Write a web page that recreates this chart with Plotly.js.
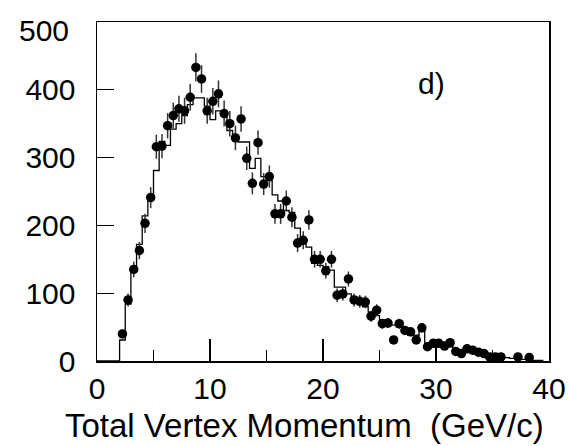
<!DOCTYPE html>
<html>
<head>
<meta charset="utf-8">
<script src="https://cdn.plot.ly/plotly-3.0.1.min.js"></script>
<style>html,body{margin:0;padding:0;background:#fff;}#chart{width:570px;height:446px;}</style>
</head>
<body>
<div id="chart"></div>
<script>
// Data points (bin centres, counts, statistical errors)
var dataX = [2.25,2.75,3.25,3.75,4.25,4.75,5.25,5.75,6.25,6.75,7.25,7.75,8.25,8.75,9.25,9.75,10.25,10.75,11.25,11.75,12.25,12.75,13.25,13.75,14.25,14.75,15.25,15.75,16.25,16.75,17.25,17.75,18.25,18.75,19.25,19.75,20.25,20.75,21.25,21.75,22.25,22.75,23.25,23.75,24.25,24.75,25.25,25.75,26.25,26.75,27.25,27.75,28.25,28.75,29.25,29.75,30.25,30.75,31.25,31.75,32.25,32.75,33.25,33.75,34.25,34.75,35.25,35.75,37.25,38.25];
var dataY = [40,90,135,163,203,241,316,317,347,362,372,369,389,433,416,369,383,394,365,350,329,357,299,262,322,261,272,217,217,236,212,174,178,208,150,150,133,150,97,99,121,90,88,87,66,75,55,56,31,55,45,43,31,49,21,26,26,22,27,14,11,18,16,13,11,6,6,6,6,5];
var dataErr = [6.3,9.5,11.6,12.8,14.2,15.5,17.8,17.8,18.6,19,19.3,19.2,19.7,20.8,20.4,19.2,19.6,19.8,19.1,18.7,18.1,18.9,17.3,16.2,17.9,16.2,16.5,14.7,14.7,15.4,14.6,13.2,13.3,14.4,12.2,12.2,11.5,12.2,9.8,9.9,11,9.5,9.4,9.3,8.1,8.7,7.4,7.5,5.6,7.4,6.7,6.6,5.6,7,4.6,5.1,5.1,4.7,5.2,3.7,3.3,4.2,4,3.6,3.3,2.4,2.4,2.4,2.4,2.2];

// Simulation histogram (bin lower edges and contents)
var histEdges = [2.0,2.5,3.0,3.5,4.0,4.5,5.0,5.5,6.0,6.5,7.0,7.5,8.0,8.5,9.0,9.5,10.0,10.5,11.0,11.5,12.0,12.5,13.0,13.5,14.0,14.5,15.0,15.5,16.0,16.5,17.0,17.5,18.0,18.5,19.0,19.5,20.0,20.5,21.0,21.5,22.0,22.5,23.0,23.5,24.0,24.5,25.0,25.5,26.0,26.5,27.0,27.5,28.0,28.5,29.0,29.5,30.0,30.5,31.0,31.5,32.0,32.5,33.0,33.5,34.0,34.5,35.0,35.5,36.0,36.5,37.0,37.5,38.0,38.5,39.0];
var histVals = [31,84,132,172,214,237,281,324,318,342,350,362,378,388,388,376,356,369,368,340,331,323,323,284,299,272,266,245,236,222,219,196,178,168,144,141,139,134,109,109,99,94,90,80,72,67,61,59,53,50,45,38,38,48,26,26,26,23,21,17,16,14,12,11,10,8,7,6,5,4,3,2.5,2,1,1];
var histEnd = 39.5;

// Axis ticks and texts
var xTicks = [0,10,20,30,40];
var yTicks = [0,100,200,300,400];
var yTopTick = 500;
var xTitle = 'Total Vertex Momentum  (GeV/c)';
var panelLabel = 'd)';

var hx = [0].concat(histEdges).concat([histEnd]);
var hy = [0].concat(histVals).concat([histVals[histVals.length-1]]);

var font = 'Liberation Sans, Arial, Helvetica, sans-serif';
var fs = 30;

var traces = [
  {
    x: hx, y: hy, type: 'scatter', mode: 'lines',
    line: {shape: 'hv', color: '#000', width: 1.3},
    hoverinfo: 'skip', showlegend: false
  },
  {
    x: dataX, y: dataY, type: 'scatter', mode: 'markers',
    marker: {color: '#000', size: 9.5, symbol: 'circle'},
    error_y: {type: 'data', array: dataErr, visible: true, width: 0, thickness: 1.5, color: '#333'},
    showlegend: false
  }
];

var layout = {
  width: 570, height: 446,
  margin: {l: 97, r: 21, t: 22, b: 85, pad: 0},
  paper_bgcolor: '#fff', plot_bgcolor: '#fff',
  font: {family: font, color: '#000', size: fs},
  showlegend: false,
  xaxis: {
    range: [0, 40], tickvals: xTicks, ticktext: xTicks.map(String),
    ticks: 'inside', ticklen: 22, tickwidth: 1.3, tickcolor: '#000',
    minor: {dtick: 5, tick0: 0, ticks: 'inside', ticklen: 11, tickwidth: 1.3, tickcolor: '#000'},
    showline: true, linecolor: '#000', linewidth: 1.5, mirror: true,
    showgrid: false, zeroline: false,
    tickfont: {family: font, size: fs, color: '#000'},
    ticklabelstandoff: 0
  },
  yaxis: {
    range: [0, 500], tickvals: yTicks.concat([yTopTick]), ticktext: yTicks.map(String).concat(['']),
    ticks: 'inside', ticklen: 17, tickwidth: 1.3, tickcolor: '#000',
    showline: true, linecolor: '#000', linewidth: 1.5, mirror: true,
    showgrid: false, zeroline: false,
    tickfont: {family: font, size: fs, color: '#000'},
    ticklabelstandoff: 14
  },
  annotations: [
    {x: 29.6, y: 409, xref: 'x', yref: 'y', text: panelLabel, showarrow: false,
     font: {family: font, size: fs, color: '#000'}, xanchor: 'center', yanchor: 'middle'},
    {x: 0, y: yTopTick, xref: 'paper', yref: 'y', text: String(yTopTick), showarrow: false,
     xanchor: 'right', yanchor: 'middle', xshift: -26, yshift: -8,
     font: {family: font, size: fs, color: '#000'}},
    {x: 0.458, y: -0.189, xref: 'paper', yref: 'paper', text: xTitle, showarrow: false,
     xanchor: 'center', yanchor: 'middle',
     font: {family: font, size: 33, color: '#000'}}
  ]
};

Plotly.newPlot('chart', traces, layout, {staticPlot: true, displayModeBar: false});
</script>
</body>
</html>
